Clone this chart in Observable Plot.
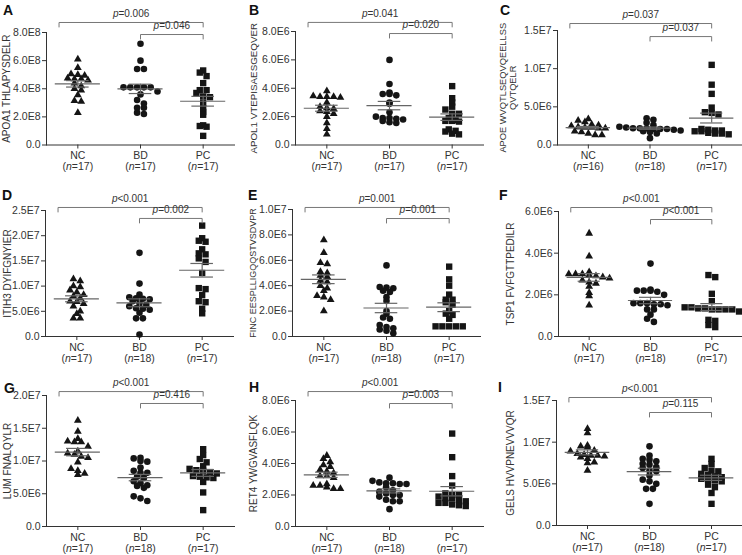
<!DOCTYPE html>
<html><head><meta charset="utf-8">
<script src="https://cdn.jsdelivr.net/npm/d3@7"></script>
<script src="https://cdn.jsdelivr.net/npm/@observablehq/plot@0.6"></script>
<style>
body{margin:0;background:#fff;}
#fig{position:relative;width:742px;height:555px;overflow:hidden;font-family:"Liberation Sans",Arial,sans-serif;}
.panel{position:absolute;}
.letter{position:absolute;font-weight:bold;font-size:14px;line-height:14px;color:#111;}
</style></head><body><div id="fig"></div>
<script>
const groups = ["NC", "BD", "PC"];
const letters = ["A","B","C","D","E","F","G","H","I"];
const yTitles = ["APOA1 THLAPYSDELR","APOL1 VTEPISAESGEQVER","APOE WVQTLSEQVQEELLSS\nQVTQELR","ITIH3 DYIFGNYIER","FINC EESPLLIGQQSTVSDVPR","TSP1 FVFGTTPEDILR","LUM FNALQYLR","RET4 YWGVASFLQK","GELS HVVPNEVVVQR"];
const units = [1e8, 1e6, 1e6, 1e6, 1e6, 1e6, 1e6, 1e6, 1e6];
const yMax = [8e8, 8e6, 1.5e7, 2.5e7, 1e7, 6e6, 2e7, 8e6, 1.5e7];
const yStep = [2e8, 2e6, 5e6, 5e6, 2e6, 2e6, 5e6, 2e6, 5e6];
const pNCvsPC = ["=0.006","=0.041","=0.037","<0.001","=0.001","<0.001","<0.001","<0.001","<0.001"];
const pBDvsPC = ["=0.046","=0.020","=0.037","=0.002","=0.001","<0.001","=0.416","=0.003","=0.115"];

// values in the panel's unit (A: 1E8, others: 1E6)
const A_NC = [6.1, 5.5, 5.05, 5.0, 4.95, 4.75, 4.7, 4.7, 4.6, 4.4, 4.2, 4.0, 3.9, 3.55, 3.15, 3.1, 2.3];
const A_BD = [7.2, 6.0, 5.4, 5.4, 4.1, 4.1, 4.1, 4.1, 4.1, 3.8, 3.6, 3.2, 2.95, 2.65, 2.65, 2.3, 2.2];
const A_PC = [5.3, 5.15, 4.9, 4.4, 3.9, 3.9, 3.7, 3.45, 3.4, 3.0, 2.6, 2.35, 2.15, 1.4, 1.35, 1.3, 0.65];
const B_NC = [3.8, 3.45, 3.4, 3.4, 3.4, 3.35, 3.0, 2.7, 2.6, 2.55, 2.4, 2.35, 2.2, 2.0, 1.55, 1.15, 0.75];
const B_BD = [6.0, 4.3, 3.7, 3.6, 3.6, 3.5, 3.0, 2.9, 2.3, 2.0, 1.9, 1.9, 1.85, 1.8, 1.7, 1.6, 1.55];
const B_PC = [4.15, 3.3, 3.0, 2.7, 2.5, 2.2, 2.2, 1.9, 1.75, 1.7, 1.7, 1.65, 1.1, 1.0, 0.95, 0.8, 0.75];
const C_NC = [3.4, 3.2, 3.0, 2.7, 2.6, 2.5, 2.35, 2.3, 2.3, 2.2, 2.2, 1.8, 1.7, 1.5, 1.3, 1.3];
const C_BD = [3.5, 3.3, 2.9, 2.6, 2.4, 2.3, 2.2, 2.2, 2.2, 2.1, 2.1, 2.1, 2.0, 1.9, 1.8, 1.7, 1.5, 0.9];
const C_PC = [10.5, 7.9, 6.7, 4.9, 4.3, 4.2, 4.0, 2.1, 2.0, 1.9, 1.9, 1.8, 1.8, 1.6, 1.5, 1.5, 1.4];
const D_NC = [11.4, 11.0, 10.0, 9.8, 9.2, 8.8, 8.3, 8.0, 7.6, 7.0, 6.9, 6.5, 6.0, 5.0, 4.5, 3.6, 3.6];
const D_BD = [16.6, 10.5, 8.3, 7.8, 7.6, 7.5, 7.4, 7.0, 6.6, 6.3, 6.0, 5.6, 5.5, 5.3, 4.7, 3.6, 3.6, 0.4];
const D_PC = [22.0, 19.5, 19.0, 18.8, 17.3, 16.5, 16.3, 15.5, 14.8, 12.6, 9.6, 9.4, 8.2, 7.0, 6.8, 5.5, 4.6];
const E_NC = [7.6, 6.6, 5.8, 5.7, 5.1, 5.0, 4.8, 4.7, 4.4, 4.3, 4.0, 3.8, 3.6, 3.2, 3.1, 2.9, 2.0];
const E_BD = [5.6, 3.9, 3.85, 3.8, 3.6, 3.5, 3.1, 2.8, 2.0, 1.8, 1.5, 1.4, 0.9, 0.75, 0.65, 0.55, 0.45, 0.25];
const E_PC = [5.5, 4.5, 4.0, 3.3, 2.9, 2.9, 2.7, 2.5, 2.0, 1.8, 1.7, 1.4, 0.8, 0.8, 0.8, 0.8, 0.8];
const F_NC = [4.95, 3.85, 3.1, 3.0, 3.0, 3.0, 2.95, 2.9, 2.85, 2.8, 2.7, 2.6, 2.55, 2.4, 2.1, 1.95, 1.5];
const F_BD = [3.5, 2.25, 2.2, 2.2, 2.2, 2.15, 2.0, 1.6, 1.6, 1.6, 1.55, 1.55, 1.5, 1.3, 1.3, 1.05, 0.85, 0.7];
const F_PC = [2.95, 2.85, 2.05, 1.7, 1.4, 1.4, 1.35, 1.35, 1.3, 1.3, 1.3, 1.3, 1.2, 0.8, 0.75, 0.55, 0.45];
const G_NC = [16.2, 14.5, 13.4, 13.0, 12.9, 12.9, 12.2, 11.5, 11.2, 11.0, 10.7, 10.5, 9.8, 8.8, 8.5, 8.1, 7.9];
const G_BD = [10.5, 10.4, 10.0, 9.9, 9.0, 8.5, 8.2, 8.2, 7.6, 7.4, 6.9, 6.6, 6.3, 6.2, 5.9, 4.6, 4.3, 3.9];
const G_PC = [11.8, 10.9, 10.3, 9.8, 9.2, 8.8, 8.6, 8.5, 8.3, 8.1, 7.7, 7.6, 7.5, 7.4, 6.8, 5.2, 2.5];
const H_NC = [4.5, 4.3, 4.1, 3.9, 3.8, 3.6, 3.5, 3.4, 3.2, 3.2, 3.1, 2.7, 2.6, 2.6, 2.5, 2.4, 2.4];
const H_BD = [3.1, 2.9, 2.8, 2.75, 2.75, 2.7, 2.7, 2.5, 2.3, 2.2, 2.1, 2.0, 2.0, 1.9, 1.7, 1.6, 1.6, 1.1];
const H_PC = [5.9, 4.4, 3.2, 2.6, 2.1, 2.0, 2.0, 1.9, 1.8, 1.8, 1.7, 1.6, 1.5, 1.5, 1.4, 1.35, 1.3];
const I_NC = [11.6, 11.1, 9.6, 9.5, 9.4, 9.0, 8.9, 8.6, 8.5, 8.4, 8.4, 8.3, 8.2, 8.0, 7.6, 7.5, 6.6];
const I_BD = [9.5, 8.4, 8.0, 7.9, 7.7, 7.4, 7.3, 7.0, 6.9, 6.6, 6.5, 6.0, 5.5, 5.3, 5.0, 4.4, 4.4, 2.6];
const I_PC = [8.0, 7.4, 6.9, 6.6, 6.5, 6.2, 6.1, 5.9, 5.8, 5.6, 5.5, 5.4, 5.3, 4.9, 4.6, 3.9, 2.6];

const panelData = [
  [A_NC, A_BD, A_PC], [B_NC, B_BD, B_PC], [C_NC, C_BD, C_PC],
  [D_NC, D_BD, D_PC], [E_NC, E_BD, E_PC], [F_NC, F_BD, F_PC],
  [G_NC, G_BD, G_PC], [H_NC, H_BD, H_PC], [I_NC, I_BD, I_PC]
];

// layout (absolute pixel geometry of each panel)
const ROWH = 185;
const layout = [
 {x:0,   y:0,   w:247, axisX:46,  axisW:188, yTop:32,  yZero:144.5, titleDx:-40, ts:10,  br:[1.089,0.982], lx:3,   ly:5},
 {x:247, y:0,   w:248, axisX:295, axisW:188, yTop:31,  yZero:144.5, titleDx:-42, ts:9.8, br:[1.08,0.982],  lx:249, ly:5},
 {x:495, y:0,   w:247, axisX:557, axisW:185, yTop:30,  yZero:144.5, titleDx:-50, ts:9.3, br:[1.061,0.947], lx:500, ly:5},
 {x:0,   y:185, w:247, axisX:45,  axisW:188, yTop:210, yZero:336,   titleDx:-38, ts:10,  br:[1.024,0.937], lx:2,   ly:190},
 {x:247, y:185, w:248, axisX:292, axisW:188, yTop:209, yZero:336,   titleDx:-40, ts:9,   br:[1.016,0.929], lx:248, ly:190},
 {x:495, y:185, w:247, axisX:558, axisW:184, yTop:211, yZero:336,   titleDx:-48, ts:10,  br:[1.032,0.936], lx:499, ly:190},
 {x:0,   y:370, w:247, axisX:46,  axisW:188, yTop:395, yZero:526,   titleDx:-39, ts:10,  br:[1.03,0.939],  lx:4,   ly:383},
 {x:247, y:370, w:248, axisX:295, axisW:188, yTop:400, yZero:526,   titleDx:-42, ts:10,  br:[1.071,0.976], lx:249, ly:382},
 {x:495, y:370, w:247, axisX:556, axisW:186, yTop:400, yZero:525,   titleDx:-46, ts:10,  br:[1.024,0.904], lx:498, ly:382}
];

const symbols = ["triangle", "circle", "square"];
const symR = [2.9, 3.3, 3.6];
const FONT = '"Liberation Sans", Arial, sans-serif';

function fmtE(v) {
  if (v === 0) return "0.0";
  const e = Math.floor(Math.log10(v) + 1e-9);
  const m = v / Math.pow(10, e);
  return m.toFixed(1) + "E" + e;
}

// GraphPad-like rows: bin pixel heights into rows, centre each row horizontally
function rowOffsets(ypx, dw, binH) {
  const rows = d3.group(ypx.map((y, i) => i), i => Math.round(ypx[i] / binH));
  const out = new Array(ypx.length).fill(0);
  for (const idx of rows.values()) {
    const n = idx.length;
    idx.forEach((i, j) => { out[i] = (j - (n - 1) / 2) * dw; });
  }
  return out;
}

function addSpan(t, s, it) {
  const ts = document.createElementNS("http://www.w3.org/2000/svg", "tspan");
  ts.textContent = s;
  if (it) ts.setAttribute("font-style", "italic");
  t.appendChild(ts);
}
function italicize(svg) {
  svg.querySelectorAll("text").forEach(t => {
    if (t.children.length) return;
    const s = t.textContent;
    let m;
    if ((m = s.match(/^p([=<].*)$/))) { t.textContent = ""; addSpan(t, "p", true); addSpan(t, m[1], false); }
    else if ((m = s.match(/^\(n(=.*)$/))) { t.textContent = ""; addSpan(t, "(", false); addSpan(t, "n", true); addSpan(t, m[1], false); }
  });
}

const fig = document.getElementById("fig");

panelData.forEach((sets, k) => {
  const L = layout[k];
  const unit = units[k];
  const max = yMax[k];
  const axisLen = L.yZero - L.yTop;
  const pxPerVal = axisLen / max;
  const pxPerX = L.axisW / 3;

  const points = [];
  const stats = [];
  sets.forEach((vals, g) => {
    const ys = vals.map(v => v * unit);
    const offs = rowOffsets(ys.map(y => y * pxPerVal), 6.8, 5.5);
    ys.forEach((y, i) => points.push({g, y, x: g + offs[i] / pxPerX}));
    const mean = d3.mean(ys);
    const sem = d3.deviation(ys) / Math.sqrt(ys.length);
    stats.push({g, mean, lo: mean - sem, hi: mean + sem});
  });
  const groupInfo = groups.map((name, g) => ({g, name, n: "(n=" + sets[g].length + ")"}));

  const tick = 4.5 / pxPerVal;
  const brackets = [
    {id: 0, x1: -0.3, x2: 2, level: max * L.br[0], text: "p" + pNCvsPC[k]},
    {id: 1, x1: 1, x2: 2, level: max * L.br[1], text: "p" + pBDvsPC[k]}
  ];
  const bracketPts = brackets.flatMap(b => [
    {id: b.id, x: b.x1, y: b.level - tick},
    {id: b.id, x: b.x1, y: b.level},
    {id: b.id, x: b.x2, y: b.level},
    {id: b.id, x: b.x2, y: b.level - tick}
  ]);

  const svg = Plot.plot({
    width: L.w,
    height: ROWH,
    marginLeft: L.axisX - L.x,
    marginRight: L.x + L.w - (L.axisX + L.axisW),
    marginTop: L.yTop - L.y,
    marginBottom: L.y + ROWH - L.yZero,
    style: {fontFamily: FONT, fontSize: "10.5px", color: "#333", background: "transparent", overflow: "visible"},
    x: {domain: [-0.5, 2.5], ticks: [0, 1, 2], tickFormat: () => "", tickSize: 4, line: true, label: null},
    y: {domain: [0, max], ticks: d3.range(0, max + yStep[k] / 2, yStep[k]), tickFormat: fmtE, tickSize: 4, tickPadding: 2, line: true, label: null},
    marks: [
      ...[0, 1, 2].map(g => Plot.dot(points.filter(p => p.g === g), {x: "x", y: "y", symbol: () => symbols[g], r: symR[g], fill: "#151515", stroke: "none"})),
      Plot.ruleY(stats, {x1: d => d.g - 0.36, x2: d => d.g + 0.36, y: "mean", stroke: "#666", strokeWidth: 1.2}),
      Plot.ruleY(stats, {x1: d => d.g - 0.18, x2: d => d.g + 0.18, y: "lo", stroke: "#666", strokeWidth: 1.2}),
      Plot.ruleY(stats, {x1: d => d.g - 0.18, x2: d => d.g + 0.18, y: "hi", stroke: "#666", strokeWidth: 1.2}),
      Plot.ruleX(stats, {x: "g", y1: "lo", y2: "hi", stroke: "#666", strokeWidth: 1.2}),
      Plot.line(bracketPts, {x: "x", y: "y", z: "id", stroke: "#777", strokeWidth: 1}),
      Plot.text(brackets, {x: d => (d.x1 + d.x2) / 2, y: "level", dy: -9, text: "text", fontSize: 10, fill: "#333"}),
      Plot.text(groupInfo, {x: "g", y: () => 0, dy: 11, text: "name", fontSize: 10.5, fill: "#333"}),
      Plot.text(groupInfo, {x: "g", y: () => 0, dy: 22, text: "n", fontSize: 10.5, fill: "#333"}),
      Plot.text([yTitles[k]], {text: d => d, frameAnchor: "left", textAnchor: "middle", lineAnchor: "middle", rotate: -90, dx: L.titleDx, fontSize: L.ts, lineHeight: 1.05, fill: "#333"})
    ]
  });
  italicize(svg);
  const wrap = document.createElement("div");
  wrap.className = "panel";
  wrap.style.left = L.x + "px";
  wrap.style.top = L.y + "px";
  wrap.appendChild(svg);
  fig.appendChild(wrap);

  const lab = document.createElement("div");
  lab.className = "letter";
  lab.textContent = letters[k];
  lab.style.left = L.lx + "px";
  lab.style.top = (L.ly - 2) + "px";
  fig.appendChild(lab);
});
</script>
</body></html>
